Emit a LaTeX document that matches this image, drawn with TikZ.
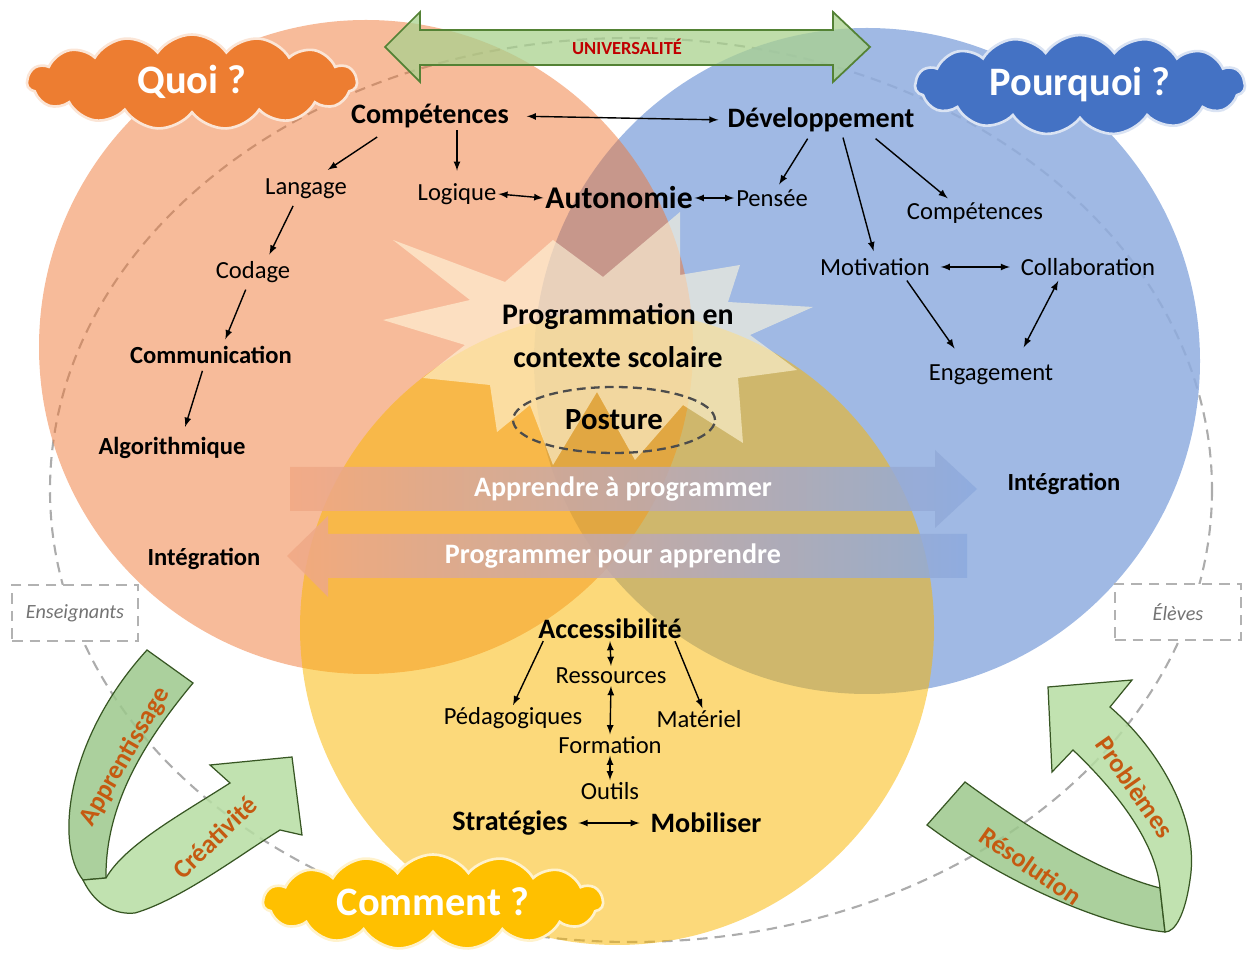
\documentclass[tikz,border=0pt]{standalone}
\usepackage{fontspec}
\setmainfont{Carlito}
\usetikzlibrary{shapes.symbols,shapes.geometric}

\definecolor{quoiorange}{RGB}{239,119,53}
\definecolor{pqblue}{RGB}{143,173,223}
\definecolor{cmtgold}{RGB}{250,183,0}
\definecolor{cloudorange}{RGB}{237,125,49}
\definecolor{cloudblue}{RGB}{68,114,196}
\definecolor{cloudgold}{RGB}{255,192,0}
\definecolor{ribdark}{RGB}{156,200,140}
\definecolor{riblight}{RGB}{182,221,162}
\definecolor{ribline}{RGB}{55,86,35}
\definecolor{ribtext}{RGB}{197,90,17}
\definecolor{univred}{RGB}{192,0,0}
\definecolor{univgreen}{RGB}{169,209,142}
\definecolor{univline}{RGB}{84,130,53}
\definecolor{arrpeach}{RGB}{242,168,132}
\definecolor{arrblue}{RGB}{140,170,222}
\definecolor{starcream}{RGB}{255,247,220}

\begin{document}
\begin{tikzpicture}[x=0.02cm, y=-0.02cm,
        lbl/.style={font=\fontsize{14}{16}\selectfont, inner sep=1pt},
        keyw/.style={font=\fontsize{16}{19}\selectfont\bfseries, inner sep=1pt},
        keys/.style={font=\fontsize{14}{17}\selectfont\bfseries, inner sep=1pt},
        link/.style={-latex, thick},
        dlink/.style={latex-latex, thick},
        bubble/.style={cloud, cloud puffs=15, cloud puff arc=110, cloud ignores aspect,
            line width=1.5pt, text=white, font=\fontsize{23}{26}\selectfont\bfseries},
        who/.style={draw=gray!60, line width=1.5pt, dash pattern=on 6pt off 4pt, fill=white,
            minimum width=2.52cm, minimum height=1.12cm, text=gray!90!black,
            font=\fontsize{11.5}{13}\selectfont\itshape},
        ribtxt/.style={text=ribtext, font=\fontsize{15}{17}\selectfont\bfseries},
        band/.style={draw=ribline, line width=0.7pt, fill opacity=0.85}]
    \useasboundingbox (0,0) rectangle (1248,955);

    % anneau et cercles
    \draw[gray!65, line width=1.2pt, dash pattern=on 6pt off 4pt] (631,490) ellipse[x radius=581, y radius=452];
    \fill[pqblue, fill opacity=0.85] (867,361) circle[radius=333];
    \fill[quoiorange, fill opacity=0.5] (366,347) circle[radius=327];
    \fill[cmtgold, fill opacity=0.52] (617,628) circle[radius=317];

    % explosion au centre
    \fill[starcream, fill opacity=0.6] (393,240) -- (505,282) -- (553,240) -- (603,277) -- (680,212) -- (680,275)
        -- (740,265) -- (728,302) -- (813,307) -- (750,335) -- (797,370) -- (738,378) -- (743,443) -- (683,405)
        -- (635,460) -- (597,392) -- (553,465) -- (530,405) -- (497,432) -- (490,385) -- (423,378) -- (465,345)
        -- (383,320) -- (470,300) -- cycle;

    % grandes fleches
    \path[left color=arrpeach, right color=arrblue, fill opacity=0.85] (290,467) -- (935,467) -- (935,450) -- (977,489)
        -- (935,528) -- (935,511) -- (290,511) -- cycle;
    \path[left color=arrpeach, right color=arrblue, fill opacity=0.85] (967,534) -- (328,534) -- (328,516) -- (287,556)
        -- (328,597) -- (328,578) -- (967,578) -- cycle;
    \node[text=white, font=\fontsize{16}{19}\selectfont\bfseries] (apprendre) at (623,489) {Apprendre à programmer};
    \node[text=white, font=\fontsize{16}{19}\selectfont\bfseries] (programmer) at (613,556) {Programmer pour apprendre};

    \node[font=\fontsize{17}{24.5}\selectfont\bfseries, align=center] (prog) at (618,336) {Programmation en\\contexte scolaire};
    \node[ellipse, draw=black!70, line width=1.3pt, dash pattern=on 5pt off 3pt, minimum width=4.04cm, minimum height=1.32cm,
        font=\fontsize{17.5}{20}\selectfont\bfseries] (post) at (614,420) {Posture};

    % Quoi ?
    \node[keyw] (comp) at (430,116) {Compétences};
    \node[lbl] (lang) at (306,189) {Langage};
    \node[lbl] (logi) at (457,194) {Logique};
    \node[font=\fontsize{18}{21}\selectfont\bfseries, inner sep=1pt] (auto) at (619,198) {Autonomie};
    \node[lbl] (coda) at (253,272) {Codage};
    \node[keys] (comm) at (211,355) {Communication};
    \node[keys] (algo) at (172,448) {Algorithmique};
    \node[keys] (integ1) at (204,559) {Intégration};

    % Pourquoi ?
    \node[keyw] (dev) at (821,120) {Développement};
    \node[lbl] (pens) at (772,198) {Pensée};
    \node[lbl] (comp2) at (975,213) {Compétences};
    \node[lbl] (moti) at (875,267) {Motivation};
    \node[lbl] (coll) at (1088,267) {Collaboration};
    \node[lbl] (enga) at (991,375) {Engagement};
    \node[keys] (integ2) at (1064,484) {Intégration};

    % Comment ?
    \node[keyw] (acc) at (610,629) {Accessibilité};
    \node[lbl] (ress) at (611,676) {Ressources};
    \node[lbl] (peda) at (513,718) {Pédagogiques};
    \node[lbl] (mate) at (699,719) {Matériel};
    \node[lbl] (form) at (610,745) {Formation};
    \node[lbl] (outi) at (610,791) {Outils};
    \node[keyw] (stra) at (510,823) {Stratégies};
    \node[keyw] (mobi) at (706,823) {Mobiliser};

    \draw[dlink, shorten <=9pt, shorten >=4pt] (comp.east) -- (dev.west);
    \draw[link] ([xshift=16pt,yshift=-4pt]comp.south west) -- ([xshift=-12pt,yshift=4pt]lang.north east);
    \draw[link, shorten >=6pt] (logi.north |- comp.south) -- (logi.north);
    \draw[dlink] (logi.east) -- (auto.west);
    \draw[dlink] (auto.east) -- (pens.west);
    \draw[link, shorten <=3pt, shorten >=2pt] ([xshift=-6pt]dev.south) -- ([xshift=3pt]pens.north);
    \draw[link, shorten <=2pt, shorten >=3pt] ([xshift=12pt]dev.south) -- (moti.north);
    \draw[link, shorten <=4pt, shorten >=2pt] ([xshift=28pt]dev.south) -- ([xshift=-14pt]comp2.north);
    \draw[dlink, shorten <=5pt, shorten >=5pt] (moti.east) -- (coll.west);
    \draw[link, shorten <=2pt, shorten >=10pt] ([xshift=17pt]moti.south) -- ([xshift=-15pt]enga.north);
    \draw[dlink, shorten <=10pt, shorten >=2pt] ([xshift=14pt]enga.north) -- ([xshift=-16pt]coll.south);
    \draw[link, shorten <=3pt, shorten >=3pt] ([xshift=-6pt]lang.south) -- ([xshift=8pt]coda.north);
    \draw[link, shorten <=3pt, shorten >=3pt] ([xshift=-3pt]coda.south) -- ([xshift=7pt]comm.north);
    \draw[link, shorten <=3pt, shorten >=5pt] ([xshift=-4pt]comm.south) -- ([xshift=6pt]algo.north);
    \draw[link] ([xshift=-38pt]acc.south) -- (peda.north);
    \draw[link] ([xshift=37pt]acc.south) -- ([xshift=2pt]mate.north);
    \draw[dlink] (acc.south) -- (ress.north);
    \draw[dlink] (ress.south) -- (form.north);
    \draw[dlink] (form.south) -- (outi.north);
    \draw[dlink, shorten <=5pt, shorten >=5pt] (stra.east) -- (mobi.west);

    % universalite
    \filldraw[fill=univgreen, draw=univline, line width=1pt, fill opacity=0.75] (385,47) -- (420,12) -- (420,30) -- (833,30)
        -- (833,12) -- (870,47) -- (833,82) -- (833,65) -- (420,65) -- (420,82) -- cycle;
    \node[text=univred, font=\fontsize{10.5}{12}\selectfont\bfseries] (univ) at (627,47) {UNIVERSALITÉ};

    % nuages
    \node[bubble, fill=cloudorange, draw=white!80!cloudorange, minimum width=6.6cm, minimum height=1.9cm] (quoi) at (192,82) {Quoi ?};
    \node[bubble, fill=cloudblue, draw=white!80!cloudblue, minimum width=6.6cm, minimum height=2cm] (pourquoi) at (1080,85) {Pourquoi ?};
    \node[bubble, fill=cloudgold, draw=white!80!cloudgold, minimum width=6.8cm, minimum height=1.9cm] (comment) at (433,902) {Comment ?};

    % acteurs
    \node[who] (ens) at (75,613) {Enseignants};
    \node[who] (elev) at (1178,612) {Élèves};

    % rubans enseignants
    \filldraw[band, fill=ribdark] (147,650) -- (193,683) .. controls (150,735) and (105,800) .. (106,878) -- (83,880)
        .. controls (55,845) and (65,740) .. (147,650) -- cycle;
    \filldraw[band, fill=riblight] (83,880) .. controls (95,905) and (115,915) .. (135,913) .. controls (180,900) and (240,855) .. (280,830)
        -- (302,835) -- (292,757) -- (210,765) -- (230,783) .. controls (180,815) and (125,845) .. (106,878) -- cycle;
    \node[ribtxt, rotate=60] (appr) at (125,757) {Apprentissage};
    \node[ribtxt, rotate=44] (crea) at (215,837) {Créativité};

    % rubans eleves
    \filldraw[band, fill=ribdark] (927,825) -- (965,782) .. controls (1010,815) and (1090,870) .. (1160,888) -- (1165,932)
        .. controls (1100,925) and (1000,880) .. (927,825) -- cycle;
    \filldraw[band, fill=riblight] (1160,888) .. controls (1155,840) and (1115,790) .. (1073,750) -- (1052,772) -- (1048,687)
        -- (1132,680) -- (1110,707) .. controls (1160,750) and (1200,820) .. (1190,880) .. controls (1185,915) and (1175,932) .. (1165,932) -- cycle;
    \node[ribtxt, rotate=-35] (reso) at (1031,866) {Résolution};
    \node[ribtxt, rotate=-55] (prob) at (1135,787) {Problèmes};
\end{tikzpicture}
\end{document}
